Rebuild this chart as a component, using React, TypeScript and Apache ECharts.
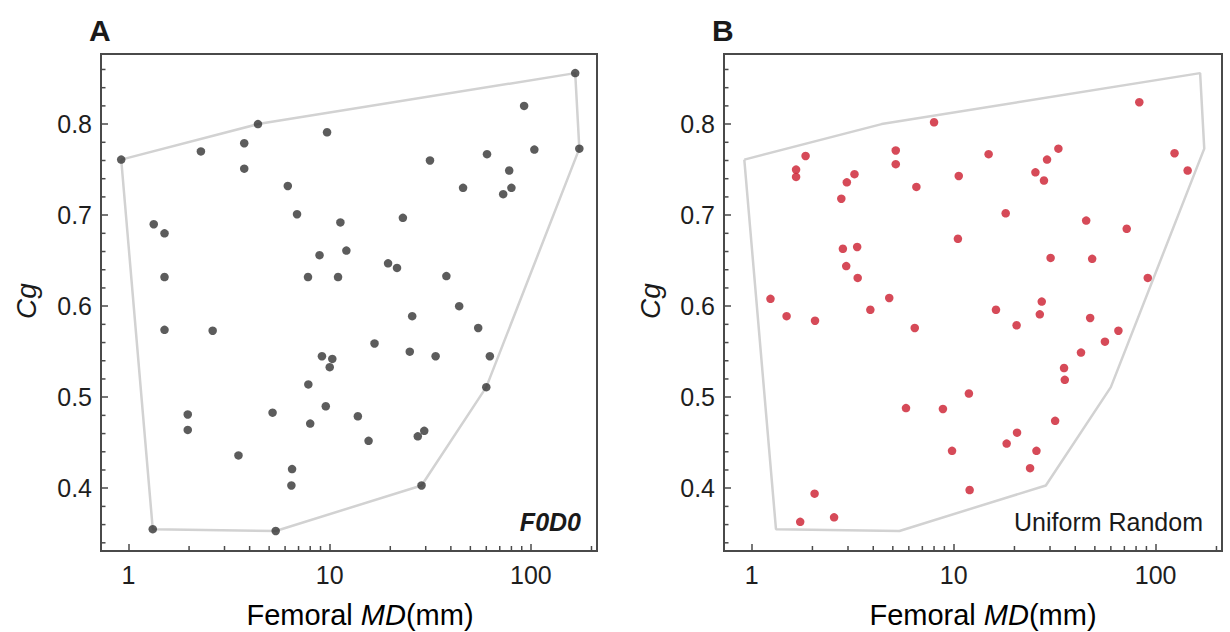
import React, { useEffect, useRef } from "react";
import * as echarts from "echarts";

// Panel A (F0D0) points: femoral MD (mm) and Cg
const aX = [166, 92.5, 4.4, 9.7, 0.92, 2.29, 3.76, 3.76, 174, 104, 60.5, 31.5, 78, 46, 80, 72.8, 6.19, 6.88, 1.335, 1.51, 11.3, 23.1, 8.9, 12.1, 1.51, 7.8, 11.0, 19.5, 21.6, 38, 44, 25.7, 1.51, 2.62, 54.7, 16.7, 25, 33.6, 62.5, 9.15, 10.3, 10.0, 7.83, 60, 5.2, 1.97, 1.97, 9.56, 13.8, 8.0, 27.4, 29.5, 15.6, 3.52, 6.5, 6.45, 28.6, 1.32, 5.39];
const aY = [0.856, 0.82, 0.8, 0.791, 0.761, 0.77, 0.779, 0.751, 0.773, 0.772, 0.767, 0.76, 0.749, 0.73, 0.73, 0.723, 0.732, 0.701, 0.69, 0.68, 0.692, 0.697, 0.656, 0.661, 0.632, 0.632, 0.632, 0.647, 0.642, 0.633, 0.6, 0.589, 0.574, 0.573, 0.576, 0.559, 0.55, 0.545, 0.545, 0.545, 0.542, 0.533, 0.514, 0.511, 0.483, 0.481, 0.464, 0.49, 0.479, 0.471, 0.457, 0.463, 0.452, 0.436, 0.421, 0.403, 0.403, 0.355, 0.353];

// Panel B (Uniform Random) points
const bX = [83, 8.0, 1.85, 1.66, 1.66, 5.17, 5.17, 2.96, 3.23, 2.78, 6.54, 14.9, 10.6, 33, 29, 25.4, 28, 124, 144, 18.1, 45.3, 71.9, 10.5, 2.83, 3.33, 2.94, 3.35, 30.2, 48.5, 91.4, 1.24, 4.8, 27.3, 1.49, 2.06, 3.87, 6.42, 16.2, 20.5, 26.7, 47.4, 65.4, 56.1, 42.7, 35.2, 35.5, 11.9, 5.81, 8.85, 31.8, 20.6, 18.3, 9.82, 25.7, 23.9, 2.05, 12.0, 1.74, 2.56];
const bY = [0.824, 0.802, 0.765, 0.75, 0.742, 0.771, 0.756, 0.736, 0.745, 0.718, 0.731, 0.767, 0.743, 0.773, 0.761, 0.747, 0.738, 0.768, 0.749, 0.702, 0.694, 0.685, 0.674, 0.663, 0.665, 0.644, 0.631, 0.653, 0.652, 0.631, 0.608, 0.609, 0.605, 0.589, 0.584, 0.596, 0.576, 0.596, 0.579, 0.591, 0.587, 0.573, 0.561, 0.549, 0.532, 0.519, 0.504, 0.488, 0.487, 0.474, 0.461, 0.449, 0.441, 0.441, 0.422, 0.394, 0.398, 0.363, 0.368];

// Convex hull of the F0D0 data (drawn in both panels)
const hullX = [0.92, 4.4, 166, 174, 60, 28.6, 5.39, 1.32, 0.92];
const hullY = [0.761, 0.8, 0.856, 0.773, 0.511, 0.403, 0.353, 0.355, 0.761];

// Axis ranges and minor tick values
const X_MIN = 0.73;
const X_MAX = 213;
const Y_MIN = 0.331;
const Y_MAX = 0.877;
const xMinorTicks = [2, 3, 4, 5, 6, 7, 8, 9, 20, 30, 40, 50, 60, 70, 80, 90, 200];
const yMinorTicks = [0.34, 0.36, 0.38, 0.42, 0.44, 0.46, 0.48, 0.52, 0.54, 0.56, 0.58, 0.62, 0.64, 0.66, 0.68, 0.72, 0.74, 0.76, 0.78, 0.82, 0.84, 0.86];

const FONT = "'Liberation Sans', Arial, Helvetica, sans-serif";
const AXIS_COLOR = "#4a4a4a";

const pairs = (xs: number[], ys: number[]) => xs.map((x, i) => [x, ys[i]]);

function buildOption() {
  const grids = [
    { left: 101, top: 54, width: 496, height: 497 },
    { left: 724, top: 54, width: 498, height: 497 },
  ];
  const xAxes = grids.map((_, i) => ({
    type: "log",
    logBase: 10,
    gridIndex: i,
    min: X_MIN,
    max: X_MAX,
    axisLine: { show: true, lineStyle: { color: AXIS_COLOR, width: 2 } },
    axisTick: { show: true, inside: true, length: 7, lineStyle: { color: AXIS_COLOR, width: 1.5 } },
    axisLabel: { show: true, fontSize: 25, color: "#1e1e1e", fontFamily: FONT, margin: 11, showMinLabel: false, showMaxLabel: false },
    splitLine: { show: false },
    minorTick: { show: false },
  }));
  const yAxes = grids.map((_, i) => ({
    type: "value",
    gridIndex: i,
    min: Y_MIN,
    max: Y_MAX,
    splitNumber: 5,
    axisLine: { show: true, lineStyle: { color: AXIS_COLOR, width: 2 } },
    axisTick: { show: true, inside: true, length: 7, lineStyle: { color: AXIS_COLOR, width: 1.5 } },
    axisLabel: {
      show: true, fontSize: 25, color: "#1e1e1e", fontFamily: FONT, margin: 9,
      showMinLabel: false, showMaxLabel: false,
      formatter: (v: number) => v.toFixed(1),
    },
    splitLine: { show: false },
  }));

  const xTickSeries = (i: number) => ({
    type: "custom",
    xAxisIndex: i,
    yAxisIndex: i,
    silent: true,
    clip: false,
    z: 6,
    data: xMinorTicks.map((v) => [v, Y_MIN]),
    renderItem: (_p: any, api: any) => {
      const pt = api.coord([api.value(0), api.value(1)]);
      return {
        type: "line",
        shape: { x1: pt[0], y1: pt[1], x2: pt[0], y2: pt[1] - 5 },
        style: { stroke: AXIS_COLOR, lineWidth: 1.5 },
      };
    },
  });
  const yTickSeries = (i: number) => ({
    type: "custom",
    xAxisIndex: i,
    yAxisIndex: i,
    silent: true,
    clip: false,
    z: 6,
    data: yMinorTicks.map((v) => [X_MIN, v]),
    renderItem: (_p: any, api: any) => {
      const pt = api.coord([api.value(0), api.value(1)]);
      return {
        type: "line",
        shape: { x1: pt[0], y1: pt[1], x2: pt[0] + 4.5, y2: pt[1] },
        style: { stroke: AXIS_COLOR, lineWidth: 1.5 },
      };
    },
  });
  const hullSeries = (i: number) => ({
    type: "line",
    xAxisIndex: i,
    yAxisIndex: i,
    data: pairs(hullX, hullY),
    showSymbol: false,
    symbol: "none",
    silent: true,
    lineStyle: { color: "#d2d2d2", width: 2.5 },
    z: 2,
  });

  const textBase = { fontFamily: FONT, fill: "#1a1a1a" };
  const titleText = (cx: number) => ({
    type: "text",
    x: cx,
    y: 615,
    style: {
      text: "{n|Femoral }{i|MD}{n|(mm)}",
      align: "center",
      verticalAlign: "middle",
      textAlign: "center",
      textVerticalAlign: "middle",
      rich: {
        n: { fontSize: 29, fontFamily: FONT, color: "#1a1a1a" },
        i: { fontSize: 29, fontFamily: FONT, fontStyle: "italic", color: "#1a1a1a" },
      },
    },
  });
  const cgText = (cx: number) => ({
    type: "text",
    x: cx,
    y: 301,
    rotation: Math.PI / 2,
    style: {
      ...textBase,
      text: "Cg",
      fontSize: 28,
      fontStyle: "italic",
      align: "center",
      verticalAlign: "middle",
      textAlign: "center",
      textVerticalAlign: "middle",
    },
  });

  return {
    animation: false,
    backgroundColor: "#ffffff",
    grid: grids.map((g) => ({ ...g, show: true, borderColor: AXIS_COLOR, borderWidth: 2, backgroundColor: "transparent" })),
    xAxis: xAxes,
    yAxis: yAxes,
    series: [
      hullSeries(0),
      hullSeries(1),
      {
        type: "scatter",
        xAxisIndex: 0,
        yAxisIndex: 0,
        data: pairs(aX, aY),
        symbol: "circle",
        symbolSize: 8.5,
        itemStyle: { color: "#333333" },
        z: 4,
      },
      {
        type: "scatter",
        xAxisIndex: 1,
        yAxisIndex: 1,
        data: pairs(bX, bY),
        symbol: "circle",
        symbolSize: 8.5,
        itemStyle: { color: "#cc1d2e" },
        z: 4,
      },
      xTickSeries(0),
      xTickSeries(1),
      yTickSeries(0),
      yTickSeries(1),
    ],
    graphic: [
      { type: "text", x: 89, y: 30, style: { ...textBase, text: "A", fontSize: 30, fontWeight: "bold", align: "left", verticalAlign: "middle", textAlign: "left", textVerticalAlign: "middle" } },
      { type: "text", x: 712, y: 30, style: { ...textBase, text: "B", fontSize: 30, fontWeight: "bold", align: "left", verticalAlign: "middle", textAlign: "left", textVerticalAlign: "middle" } },
      titleText(360),
      titleText(983),
      cgText(26),
      cgText(650),
      { type: "text", x: 581, y: 522, style: { ...textBase, text: "F0D0", fontSize: 25, fontWeight: "bold", fontStyle: "italic", align: "right", verticalAlign: "middle", textAlign: "right", textVerticalAlign: "middle" } },
      { type: "text", x: 1203, y: 522, style: { ...textBase, text: "Uniform Random", fontSize: 25, align: "right", verticalAlign: "middle", textAlign: "right", textVerticalAlign: "middle" } },
    ],
  };
}

export default function App() {
  const ref = useRef<HTMLDivElement>(null);
  useEffect(() => {
    if (!ref.current) return;
    const chart = echarts.init(ref.current, null, { renderer: "svg" });
    chart.setOption(buildOption() as any);
    return () => chart.dispose();
  }, []);
  return (
    <div
      ref={ref}
      style={{ position: "fixed", left: 0, top: 0, width: 1230, height: 632, background: "#fff" }}
    />
  );
}
